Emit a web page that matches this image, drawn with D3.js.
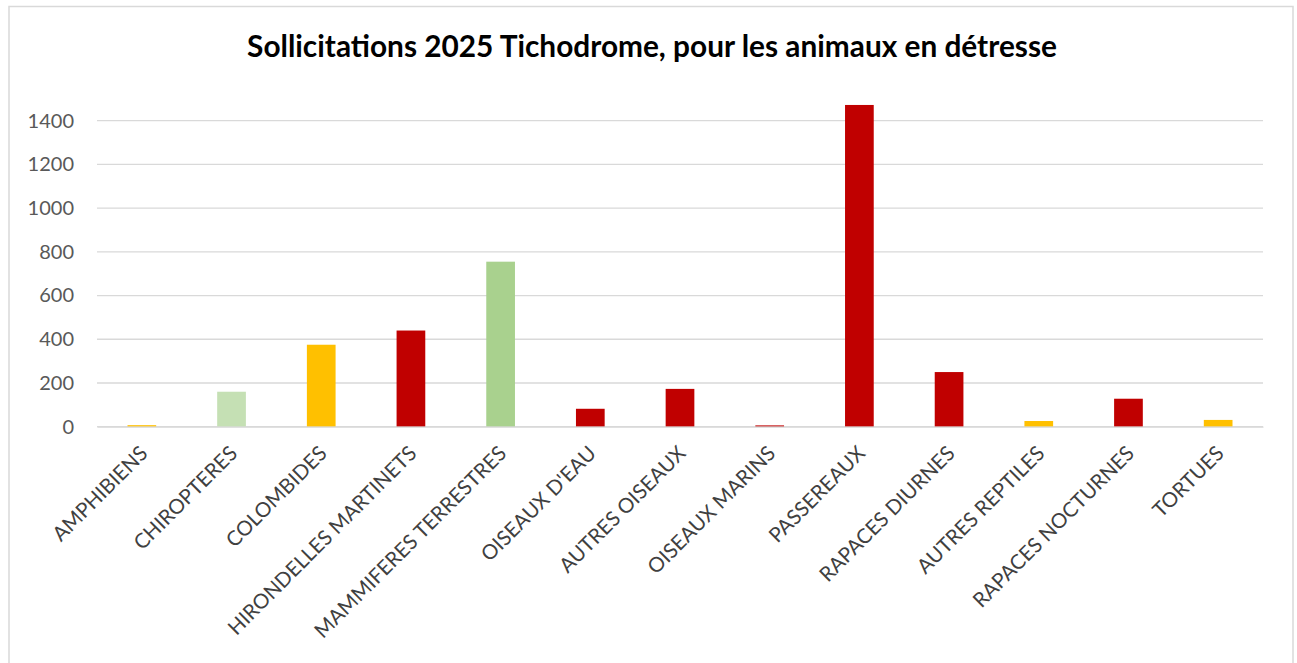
<!DOCTYPE html>
<html>
<head>
<meta charset="utf-8">
<script src="https://cdn.jsdelivr.net/npm/d3@7"></script>
<style>
  body { margin: 0; background: #fff; }
  svg { display: block; }
  .tick text { font-family: Lato, "Open Sans", sans-serif; }
</style>
</head>
<body>
<svg width="1297" height="663"></svg>
<script>
// Données
const categories = ["AMPHIBIENS", "CHIROPTERES", "COLOMBIDES", "HIRONDELLES MARTINETS",
  "MAMMIFERES TERRESTRES", "OISEAUX D'EAU", "AUTRES OISEAUX", "OISEAUX MARINS",
  "PASSEREAUX", "RAPACES DIURNES", "AUTRES REPTILES", "RAPACES NOCTURNES", "TORTUES"];
const values = [7, 160, 375, 440, 755, 82, 173, 6, 1472, 250, 26, 128, 31];
const colors = ["#FFC000", "#C5E0B4", "#FFC000", "#C00000", "#A9D18E", "#C00000", "#C00000",
  "#C00000", "#C00000", "#C00000", "#FFC000", "#C00000", "#FFC000"];
const yTicks = [0, 200, 400, 600, 800, 1000, 1200, 1400];
const title = "Sollicitations 2025 Tichodrome, pour les animaux en détresse";

const svg = d3.select("svg");
const W = 1297, H = 663;

// cadre du graphique
svg.append("rect")
  .attr("x", 9).attr("y", 6.5)
  .attr("width", 1284).attr("height", H + 10)
  .attr("fill", "#fff")
  .attr("stroke", "#D9D9D9")
  .attr("stroke-width", 1.5);

const x = d3.scaleBand()
  .domain(categories)
  .range([97, 1263])
  .paddingInner(0.68)
  .paddingOuter(0.34);

const y = d3.scaleLinear()
  .domain([0, 1400])
  .range([426.7, 120.7]);

// grille
svg.append("g")
  .selectAll("line")
  .data(yTicks)
  .join("line")
  .attr("x1", 97).attr("x2", 1263)
  .attr("y1", d => y(d)).attr("y2", d => y(d))
  .attr("stroke", "#D9D9D9")
  .attr("stroke-width", 1.3);

// axe Y
const yAxis = svg.append("g")
  .attr("transform", "translate(97,0)")
  .call(d3.axisLeft(y).tickValues(yTicks).tickFormat(d3.format("d")).tickSize(0).tickPadding(23));
yAxis.select(".domain").remove();
yAxis.selectAll("text")
  .attr("fill", "#595959")
  .style("font-size", "20px");

// barres
svg.append("g")
  .selectAll("rect")
  .data(values)
  .join("rect")
  .attr("x", (d, i) => x(categories[i]))
  .attr("y", d => y(d))
  .attr("width", x.bandwidth())
  .attr("height", d => y(0) - y(d))
  .attr("fill", (d, i) => colors[i]);

// axe X
const xAxis = svg.append("g")
  .attr("transform", `translate(0,${y(0)})`)
  .call(d3.axisBottom(x).tickSize(0).tickPadding(0));
xAxis.select(".domain")
  .attr("stroke", "#D9D9D9")
  .attr("stroke-width", 1.3);
xAxis.selectAll("text")
  .attr("fill", "#404040")
  .style("font-size", "20.5px")
  .attr("text-anchor", "end")
  .attr("dy", null)
  .attr("y", 0)
  .attr("transform", "translate(7,28) rotate(-45)");

// titre
svg.append("text")
  .attr("x", 652)
  .attr("y", 57)
  .attr("text-anchor", "middle")
  .style("font-family", "Lato, 'Open Sans', sans-serif")
  .style("font-weight", "bold")
  .style("font-size", "29.8px")
  .attr("fill", "#000")
  .text(title);
</script>
</body>
</html>
